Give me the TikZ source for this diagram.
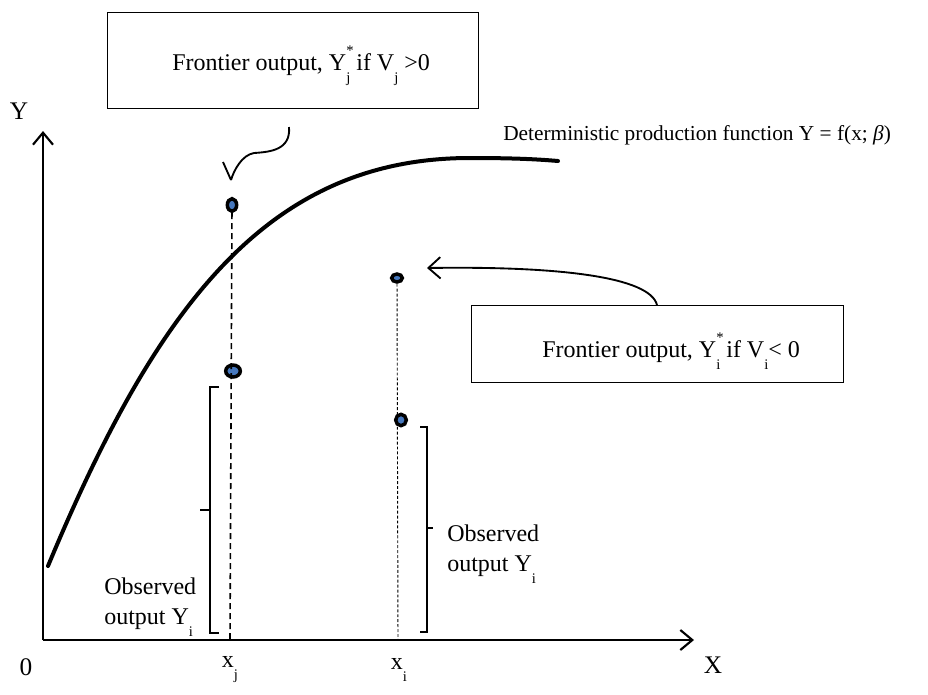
\documentclass[tikz,border=0pt]{standalone}
\usepackage{fontspec}
\setmainfont{Liberation Serif}
\usetikzlibrary{arrows.meta,shapes.geometric}
\definecolor{dotblue}{RGB}{70,120,190}
\newcommand{\supsubY}[2]{\rlap{\raisebox{0.6em}{\fontsize{11}{11}\selectfont #1}}\raisebox{-0.5em}{\fontsize{11}{11}\selectfont #2}}
\newcommand{\subY}[1]{\raisebox{-0.5em}{\fontsize{11}{11}\selectfont #1}}
\begin{document}
\begin{tikzpicture}[x=0.75pt,y=-0.75pt,
  axisline/.style={line width=1.6pt,-{Straight Barb[length=9pt,width=15pt,line width=1.6pt]}},
  lbl/.style={font=\fontsize{18}{22}\selectfont,inner sep=0pt},
  midlbl/.style={font=\fontsize{16}{20}\selectfont,inner sep=0pt},
  biglbl/.style={font=\fontsize{19}{22}\selectfont,inner sep=0pt},
  framebox/.style={draw,line width=0.8pt},
  dotn/.style={ellipse,draw=black,fill=dotblue,inner sep=0pt,line width=2.6pt},
  bracel/.style={line width=1.1pt},
  pointer/.style={line width=1.4pt,-{Straight Barb[length=9pt,width=16pt,line width=1.4pt]}}]
\useasboundingbox (0,0) rectangle (928,694);
% axes
\coordinate (O) at (43,640);
\coordinate (Ytop) at (43,131);
\coordinate (Xend) at (694,640);
\draw[axisline] (O) -- (Ytop);
\draw[axisline] (O) -- (Xend);
\node[biglbl] (ylab) at (19,111) {Y};
\node[biglbl] (xlab) at (713,665) {X};
\node[biglbl] (zero) at (26,667) {0};
% production function
\coordinate (c0) at (48,566);
\coordinate (c1) at (470,158);
\coordinate (c2) at (558,161);
\draw[line width=3pt,line cap=round] (c0) .. controls (158,302) and (270,158) .. (c1) .. controls (510,158) and (535,159) .. (c2);
\node[midlbl,anchor=base west] (det) at (503,140) {Deterministic production function Y = f(x; \textit{β})};
% vertical lines
\coordinate (xjb) at (230,640);
\coordinate (xib) at (398,640);
\node[dotn,minimum width=7pt,minimum height=9.5pt] (d1) at (232,205) {};
\node[dotn,minimum width=11pt,minimum height=9pt] (d2) at (233,371) {};
\node[dotn,minimum width=8pt,minimum height=6pt] (d3) at (397,278) {};
\node[dotn,minimum width=8pt,minimum height=8.5pt] (d4) at (401,420) {};
\draw[line width=1.2pt,dash pattern=on 4.5pt off 3pt] (d1) -- (xjb);
\draw[line width=0.7pt,dash pattern=on 2.2pt off 1.5pt] (d3) -- (xib);
\node[lbl] (xj) at (230,670) {x\subY{j}};
\node[lbl] (xi) at (399,670) {x\subY{i}};
% boxes
\node[framebox,minimum width=278pt,minimum height=72pt,anchor=north west] (box1) at (107,12) {};
\node[lbl,anchor=base west] (t1) at (172,70) {Frontier output, Y\supsubY{*}{j} if V\subY{j} >0};
\node[framebox,minimum width=279pt,minimum height=58pt,anchor=north west] (box2) at (471,305) {};
\node[lbl,anchor=base west] (t2) at (542,357) {Frontier output, Y\supsubY{*}{i} if V\subY{i}< 0};
% pointers
\coordinate (s1) at (289,127);
\coordinate (tip1) at (231,180);
\draw[line width=1.4pt] (s1) .. controls (291,150) and (270,152) .. (254,153) .. controls (242,155) and (234,170) .. (tip1);
\draw[line width=1.4pt] (223,162) -- (tip1);
\coordinate (s2) at (657,305);
\coordinate (tip2) at (427,268);
\draw[pointer] (s2) .. controls (650,277) and (560,266) .. (tip2);
% braces
\draw[bracel] (219,387) -- (210,387) -- (210,633) -- (219,633);
\draw[bracel] (210,510) -- (200,510);
\draw[bracel] (420,427) -- (427,427) -- (427,632) -- (420,632);
\draw[bracel] (427,528) -- (433,528);
\node[lbl,align=left,anchor=north west] (obs1) at (104,578) {Observed\\output Y\subY{i}};
\node[lbl,align=left,anchor=north west] (obs2) at (447,525) {Observed\\output Y\subY{i}};
\end{tikzpicture}
\end{document}
